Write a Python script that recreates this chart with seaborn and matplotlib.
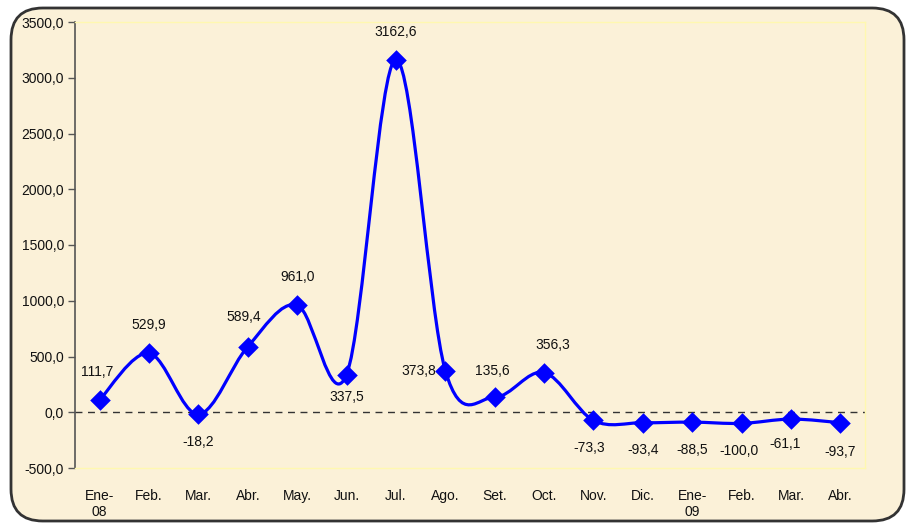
import numpy as np
import pandas as pd
import matplotlib
matplotlib.use('Agg')
import matplotlib.pyplot as plt
import seaborn as sns
from matplotlib.path import Path
from matplotlib.patches import PathPatch, FancyBboxPatch

months = ['Ene-\n08', 'Feb.', 'Mar.', 'Abr.', 'May.', 'Jun.', 'Jul.', 'Ago.',
          'Set.', 'Oct.', 'Nov.', 'Dic.', 'Ene-\n09', 'Feb.', 'Mar.', 'Abr.']
values = [111.7, 529.9, -18.2, 589.4, 961.0, 337.5, 3162.6, 373.8,
          135.6, 356.3, -73.3, -93.4, -88.5, -100.0, -61.1, -93.7]
y_ticks = [-500, 0, 500, 1000, 1500, 2000, 2500, 3000, 3500]

# label offsets in points (style only)
label_offsets = [(-2, 20), (0, 20), (0, -20), (-3, 21), (0, 20), (0, -16),
                 (0, 20), (-19, 0), (-2, 19), (6, 20), (-3, -20), (0, -20),
                 (0, -20), (-2, -20), (-4, -18), (0, -21)]

sns.set_theme(style='white')
plt.rcParams['font.family'] = ['Liberation Sans', 'DejaVu Sans']

bg = '#FBF1D8'
blue = '#0000FF'

fig = plt.figure(figsize=(9.09, 5.23), dpi=100)
fig.patch.set_facecolor('white')
frame = FancyBboxPatch((11 / 909, 2 / 523), 893 / 909, 513 / 523,
                       boxstyle='round,pad=0,rounding_size=0.035',
                       transform=fig.transFigure, facecolor=bg,
                       edgecolor='#333333', linewidth=2, zorder=-5,
                       mutation_aspect=909 / 523)
fig.patches.append(frame)

ax = fig.add_axes([75 / 909, 55 / 523, 790 / 909, 446 / 523])
ax.set_facecolor('none')
ax.set_zorder(1)

df = pd.DataFrame({'x': np.arange(len(values)), 'y': values})

# smoothed line (Excel-style bezier through the points)
pts = df[['x', 'y']].to_numpy(dtype=float)
verts = [pts[0]]
codes = [Path.MOVETO]
n = len(pts)
for i in range(n - 1):
    p0 = pts[i - 1] if i > 0 else pts[i]
    p1 = pts[i]
    p2 = pts[i + 1]
    p3 = pts[i + 2] if i + 2 < n else pts[i + 1]
    c1 = p1 + (p2 - p0) / 6.0
    c2 = p2 - (p3 - p1) / 6.0
    verts += [c1, c2, p2]
    codes += [Path.CURVE4] * 3
ax.add_patch(PathPatch(Path(verts, codes), facecolor='none',
                       edgecolor=blue, linewidth=2.3, zorder=3))

sns.scatterplot(data=df, x='x', y='y', marker='D', s=110, color=blue,
                edgecolor=blue, linewidth=0, zorder=4, ax=ax, legend=False)

ax.axhline(0, color='#333333', linestyle=(0, (5, 4)), linewidth=1, zorder=2)

for i, v in enumerate(values):
    dx, dy = label_offsets[i]
    ax.annotate(f'{v:.1f}'.replace('.', ','), (i, v), xytext=(dx, dy),
                textcoords='offset points', ha='center', va='center',
                fontsize=10, color='#111111')

ax.set_xlim(-0.5, len(values) - 0.5)
ax.set_ylim(-500, 3500)
ax.set_yticks(y_ticks)
ax.set_yticklabels([f'{t:.1f}'.replace('.', ',') for t in y_ticks], fontsize=10)
ax.set_xticks(range(len(months)))
ax.set_xticklabels(months, fontsize=10, linespacing=1.2, va='top')
ax.set_xlabel('')
ax.set_ylabel('')

for s in ['top', 'right', 'bottom']:
    ax.spines[s].set_color('#FFF8B0')
    ax.spines[s].set_linewidth(1)
ax.spines['left'].set_color('#555555')
ax.spines['left'].set_linewidth(1.2)
ax.tick_params(axis='y', which='both', left=True, length=5, width=1,
               color='#555555', pad=3, labelcolor='#111111')
ax.tick_params(axis='x', bottom=False, pad=9, labelcolor='#111111')

fig.savefig('out.png', dpi=100)
